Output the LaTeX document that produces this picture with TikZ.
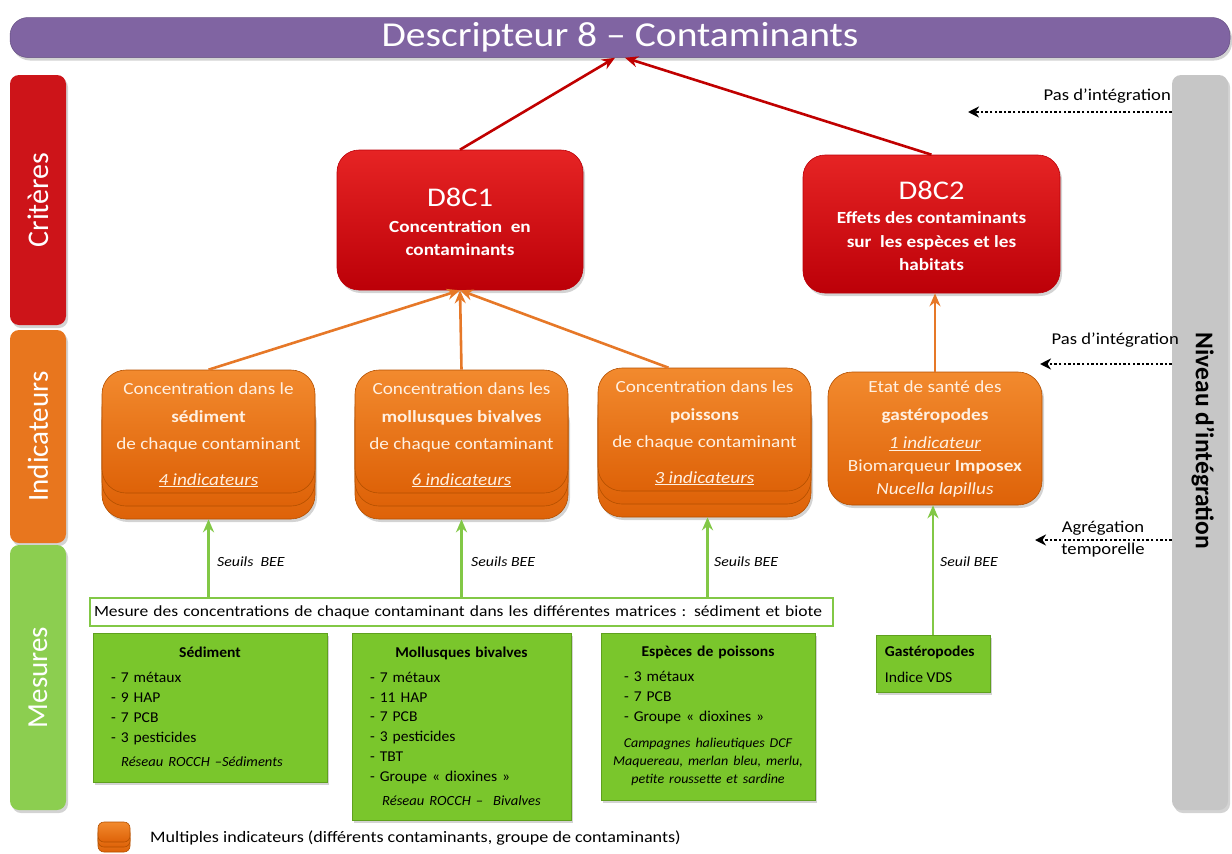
\documentclass[tikz,border=0pt]{standalone}
\usepackage{fontspec}
\setmainfont{Carlito}[FakeStretch=1.13]
\newfontfamily\plainfont{Carlito}
\newfontfamily\gfont{Carlito}[FakeStretch=1.04]
\usetikzlibrary{arrows.meta,shadows,calc}
\definecolor{purp}{RGB}{128,100,162}
\definecolor{redtop}{RGB}{230,36,36}
\definecolor{redbot}{RGB}{188,0,8}
\definecolor{ortop}{RGB}{242,138,46}
\definecolor{orbot}{RGB}{222,98,8}
\definecolor{oredge}{RGB}{180,80,0}
\definecolor{grn}{RGB}{122,198,44}
\definecolor{grnedge}{RGB}{95,160,30}
\definecolor{barred}{RGB}{205,20,25}
\definecolor{baror}{RGB}{232,118,30}
\definecolor{bargr}{RGB}{140,206,80}
\definecolor{grayb}{RGB}{198,198,198}
\definecolor{darkred}{RGB}{192,0,0}
\definecolor{oarrow}{RGB}{230,120,40}
\definecolor{garrow}{RGB}{130,200,70}
\definecolor{otext}{RGB}{255,240,225}
\tikzset{
  shad/.style={drop shadow={opacity=0.35,shadow xshift=2pt,shadow yshift=-3pt}},
  sidebar/.style={rounded corners=9pt,minimum height=56pt,inner sep=0pt,text=white,shad},
  redbox/.style={rounded corners=22pt,top color=redtop,bottom color=redbot,draw=redbot,line width=0.6pt,shad,inner sep=0pt},
  obox/.style={rounded corners=24pt,top color=ortop,bottom color=orbot,draw=oredge,line width=0.6pt,inner sep=0pt},
  gbox/.style={fill=grn,draw=grnedge,line width=0.6pt,shad,inner sep=0pt},
  redarr/.style={draw=darkred,line width=2.6pt,-{Stealth[length=13pt,width=11pt]}},
  orarr/.style={draw=oarrow,line width=2.6pt,-{Stealth[length=13pt,width=11pt]}},
  grarr/.style={draw=garrow,line width=2.6pt,-{Stealth[length=13pt,width=11pt]}},
  dotarr/.style={draw=black,line width=2.4pt,dash pattern=on 2.4pt off 2.2pt,-{Stealth[length=11pt,width=11pt]}},
  otxt/.style={text=otext,align=center,font=\fontsize{17}{27.5}\selectfont},
  lbl/.style={font=\fontsize{14}{16}\selectfont\itshape,anchor=west,inner sep=0pt},
  side/.style={font=\fontsize{16.5}{20}\selectfont,inner sep=0pt}
}
\begin{document}
\begin{tikzpicture}[x=1pt,y=-1pt]
\useasboundingbox (0,0) rectangle (1232,854);
% title
\node[rounded corners=18pt,fill=purp,draw=purp!80!black,line width=0.5pt,minimum width=1220pt,minimum height=40pt,inner sep=0pt,text=white,font=\fontsize{35}{40}\selectfont,shad] (title) at (620,37.5) {Descripteur 8 – Contaminants};
% left bars
\node[sidebar,fill=barred,rotate=90,minimum width=250pt,font=\plainfont\fontsize{30}{32}\selectfont] (crit) at (38,200) {Critères};
\node[sidebar,fill=baror,rotate=90,minimum width=213pt,font=\plainfont\fontsize{29}{32}\selectfont] (indic) at (38,436.5) {Indicateurs};
\node[sidebar,fill=bargr,rotate=90,minimum width=265pt,font=\plainfont\fontsize{29}{32}\selectfont] (mesu) at (38,677.5) {Mesures};
% right bar
\node[sidebar,fill=grayb,rotate=-90,minimum width=735pt] (niv) at (1200,442.5) {};
\node[rotate=-90,inner sep=0pt,font=\plainfont\fontsize{25.5}{28}\selectfont\bfseries] (nivt) at (1203,441) {Niveau d’intégration};
% criteria
\node[redbox,minimum width=246pt,minimum height=140pt] (c1) at (460,220) {};
\node[text=white,align=center,inner sep=0pt,font=\fontsize{17}{23.5}\selectfont\bfseries] (c1t) at (460,222) {{\fontsize{27}{30}\selectfont\mdseries D8C1}\\[2pt]Concentration\ \ en\\contaminants};
\node[redbox,minimum width=257pt,minimum height=138pt] (c2) at (931.5,224) {};
\node[text=white,align=center,inner sep=0pt,font=\fontsize{17}{23.5}\selectfont\bfseries] (c2t) at (931.5,226) {{\fontsize{27}{30}\selectfont\mdseries D8C2}\\[1pt]Effets des contaminants\\sur\ \ les espèces et les\\habitats};
% indicator stacks
\foreach \nm/\cx/\cy in {sed/208.5/431.5, mol/461.5/431.5, poi/704.5/429.5}{
  \node[obox,shad,minimum width=213pt,minimum height=123pt] (\nm3) at (\cx,\cy+26) {};
  \node[obox,minimum width=213pt,minimum height=123pt] (\nm2) at (\cx,\cy+13) {};
  \node[obox,minimum width=213pt,minimum height=123pt] (\nm) at (\cx,\cy) {};
}
\node[otxt] (sedt) at (208.5,435) {Concentration dans le\\\textbf{sédiment}\\de chaque contaminant\\[8pt]\underline{\textit{4 indicateurs}}};
\node[otxt] (molt) at (461.5,435) {Concentration dans les\\\textbf{mollusques bivalves}\\de chaque contaminant\\[8pt]\underline{\textit{6 indicateurs}}};
\node[otxt] (poit) at (704.5,433) {Concentration dans les\\\textbf{poissons}\\de chaque contaminant\\[8pt]\underline{\textit{3 indicateurs}}};
\node[obox,shad,minimum width=214pt,minimum height=133pt] (gas) at (935,438.5) {};
\node[otxt,font=\fontsize{17}{23}\selectfont] (gast) at (935,439) {Etat de santé des\\[5pt]\textbf{gastéropodes}\\[5pt]\underline{\textit{1 indicateur}}\\Biomarqueur \textbf{Imposex}\\\textit{Nucella lapillus}};
% arrows up
\draw[redarr] (c1.north) -- ([xshift=-5pt]title.south);
\draw[redarr] (c2.north) -- ([xshift=5pt]title.south);
\draw[orarr] (sed.north) -- (c1.south);
\draw[orarr] (mol.north) -- (c1.south);
\draw[orarr] ([xshift=-36pt]poi.north) -- (c1.south);
\draw[orarr] (gas.north) -- (gas.north |- c2.south);
% measure banner
\node[draw=garrow,line width=1.6pt,fill=white,minimum height=28pt,text width=735pt,inner xsep=4pt,inner ysep=0pt,align=left,font=\fontsize{15.5}{18}\selectfont] (mes) at (461.5,612) {Mesure des concentrations de chaque contaminant dans les différentes matrices : sédiment et biote};
% measure boxes
\node[gbox,minimum width=234pt,minimum height=149pt] (sedm) at (210,707.5) {};
\node[gbox,minimum width=219pt,minimum height=187pt] (molm) at (461.5,726.5) {};
\node[gbox,minimum width=214pt,minimum height=167pt] (poim) at (708,716.5) {};
\node[gbox,minimum width=114pt,minimum height=57pt] (gasm) at (933,663.5) {};
\node[anchor=north,text width=226pt,inner sep=0pt,font=\gfont\fontsize{15}{20}\selectfont] (sedmt) at ([yshift=-14pt]sedm.north) {\parindent=0pt
{\centering\textbf{Sédiment}\par}\vspace{5pt}
{\leftskip=14pt - 7 métaux\par - 9 HAP\par - 7 PCB\par - 3 pesticides\par}\vspace{6pt}
{\leftskip=0pt plus 1fil\rightskip=16pt plus 1fil\parfillskip=0pt\itshape\fontsize{14}{18}\selectfont Réseau ROCCH –Sédiments\par}};
\node[anchor=north,text width=211pt,inner sep=0pt,font=\gfont\fontsize{15}{19.8}\selectfont] (molmt) at ([yshift=-14pt]molm.north) {\parindent=0pt
{\centering\textbf{Mollusques bivalves}\par}\vspace{5pt}
{\leftskip=14pt - 7 métaux\par - 11 HAP\par - 7 PCB\par - 3 pesticides\par - TBT\par - Groupe « dioxines »\par}\vspace{6pt}
{\centering\itshape\fontsize{14}{18}\selectfont Réseau ROCCH –\ \ Bivalves\par}};
\node[anchor=north,text width=212pt,inner sep=0pt,font=\gfont\fontsize{15}{20}\selectfont] (poimt) at ([yshift=-13pt]poim.north) {\parindent=0pt
{\centering\textbf{Espèces de poissons}\par}\vspace{5pt}
{\leftskip=22pt - 3 métaux\par - 7 PCB\par - Groupe « dioxines »\par}\vspace{8pt}
{\centering\itshape\fontsize{13.5}{18}\selectfont Campagnes halieutiques DCF\par Maquereau, merlan bleu, merlu,\par petite roussette et sardine\par}};
\node[anchor=north west,inner sep=0pt,align=left,font=\gfont\fontsize{15}{26}\selectfont] (gasmt) at ([xshift=9pt,yshift=-11pt]gasm.north west) {\textbf{Gastéropodes}\\Indice VDS};
% green arrows
\draw[grarr] (sed3.south |- mes.north) -- (sed3.south);
\draw[grarr] (mol3.south |- mes.north) -- (mol3.south);
\draw[grarr] ([xshift=3pt]poi3.south |- mes.north) -- ([xshift=3pt]poi3.south);
\draw[grarr] (gasm.north) -- (gasm.north |- gas.south);
\node[lbl] (s1) at (217,562) {Seuils\ \ BEE};
\node[lbl] (s2) at (471,562) {Seuils BEE};
\node[lbl] (s3) at (714,562) {Seuils BEE};
\node[lbl] (s4) at (940,562) {Seuil BEE};
% dotted arrows (niv is rotated -90, so its south anchor lies on its left edge)
\coordinate (p1) at (968,112);
\coordinate (p2) at (1040,364);
\coordinate (p3) at (1035,540);
\draw[dotarr] (niv.south |- p1) -- (p1);
\draw[dotarr] (niv.south |- p2) -- (p2);
\draw[dotarr] (niv.south |- p3) -- (p3);
\node[side,anchor=east] (t1) at (1171,96) {Pas d’intégration};
\node[side,anchor=east] (t2) at (1179,340) {Pas d’intégration};
\node[side,align=center,font=\fontsize{16.5}{22}\selectfont] (t3) at (1103,539) {Agrégation\\temporelle};
% legend
\node[obox,rounded corners=6pt,minimum width=32pt,minimum height=20pt] (lg3) at (114,842) {};
\node[obox,rounded corners=6pt,minimum width=32pt,minimum height=20pt] (lg2) at (114,837) {};
\node[obox,rounded corners=6pt,minimum width=32pt,minimum height=20pt] (lg1) at (114,832) {};
\node[anchor=west,inner sep=0pt,font=\fontsize{16}{18}\selectfont] (lgt) at (150,838) {Multiples indicateurs (différents contaminants, groupe de contaminants)};
\end{tikzpicture}
\end{document}
